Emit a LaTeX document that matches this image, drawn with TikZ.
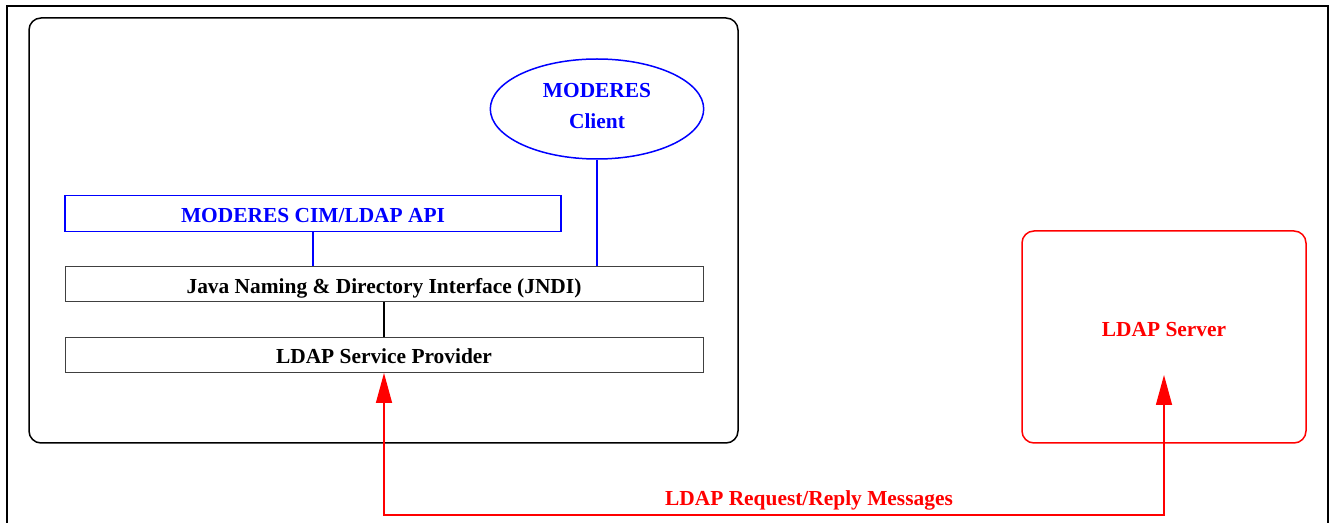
\documentclass[tikz,border=0pt]{standalone}
\usepackage{fontspec}
\setmainfont{Liberation Serif}
\usetikzlibrary{shapes.geometric,arrows.meta}
\newcommand\boxfont{\fontsize{10.7}{15.3}\selectfont\bfseries}
\tikzset{
  layer/.style={draw=black!75,line width=0.5pt,minimum width=319pt,minimum height=17.5pt,inner sep=0pt,text height=9pt,text depth=0pt,font=\boxfont},
  apibox/.style={draw=blue,text=blue,line width=0.75pt,minimum width=248pt,minimum height=18pt,inner sep=0pt,text height=9pt,text depth=0pt,font=\boxfont},
  client/.style={ellipse,draw=blue,text=blue,line width=0.75pt,minimum width=106.7pt,minimum height=50pt,inner sep=0pt,text depth=3pt,align=center,font=\boxfont},
  server/.style={draw=red,text=red,rounded corners=6pt,line width=0.75pt,minimum width=142pt,minimum height=106pt,inner sep=0pt,text height=4pt,text depth=4pt,font=\boxfont},
  msg/.style={red,line width=0.75pt,{Triangle[length=15pt,width=8pt]}-{Triangle[length=15pt,width=8pt]}}
}
\begin{document}
\begin{tikzpicture}[x=0.5pt,y=-0.5pt]
  \useasboundingbox (0,0) rectangle (1335,523);
  % frame and host
  \draw[line width=1.2pt] (7,540) -- (7,6) -- (1328,6) -- (1328,540);
  \draw[line width=0.75pt,rounded corners=6pt] (29,18) rectangle (738,443);

  \node[client] (C) at (597,109) {MODERES\\ Client};
  \node[apibox] (A) at (313,213.3) {MODERES CIM/LDAP API};
  \node[layer] (J) at (384,284.3) {Java Naming \& Directory Interface (JNDI)};
  \node[layer] (P) at (384,355) {LDAP Service Provider};
  \node[server] (S) at (1164,337) {LDAP Server};

  \coordinate (T) at (384,515);
  \coordinate (R) at (1164,375);

  \draw[blue,line width=0.75pt] (C.south) -- (C.south |- J.north);
  \draw[blue,line width=0.75pt] (A.south) -- (A.south |- J.north);
  \draw[line width=0.75pt] (J.south) -- (P.north);
  \draw[msg] (P.south) -- (T) -- (T -| R) -- (R);
  \node[red,font=\boxfont,anchor=base,inner sep=0pt] (L) at (809,505.3) {LDAP Request/Reply Messages};
\end{tikzpicture}
\end{document}
